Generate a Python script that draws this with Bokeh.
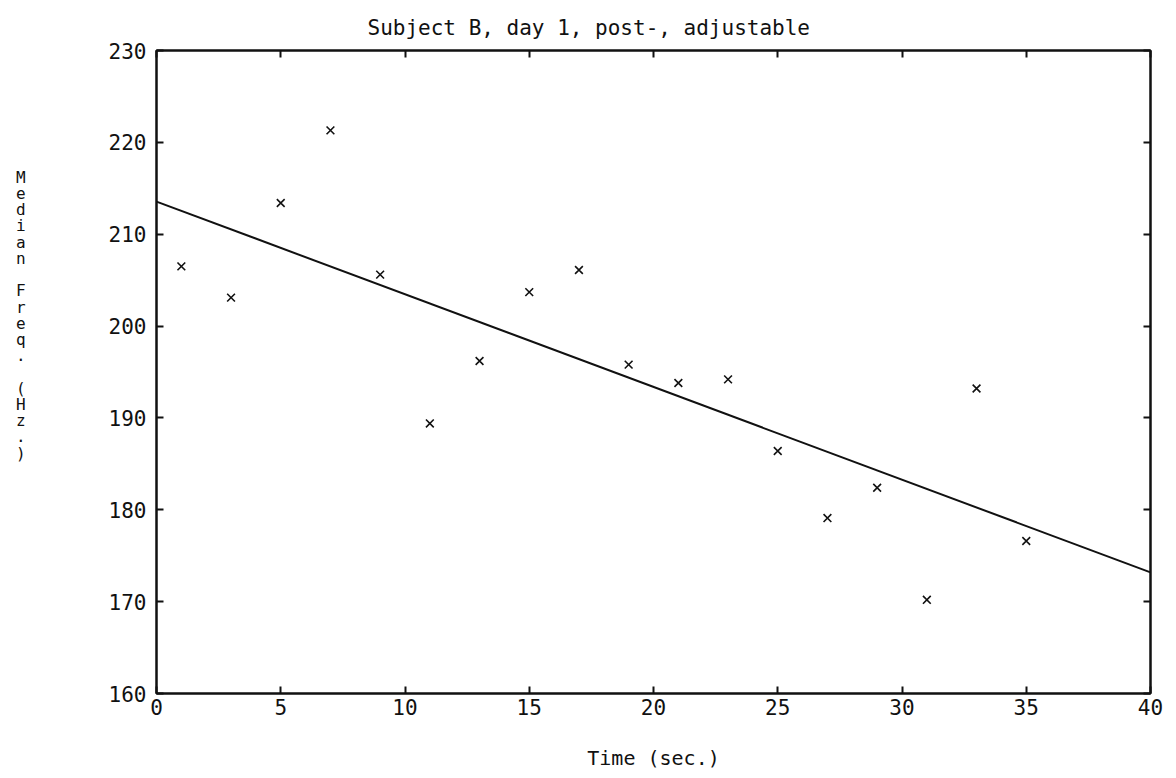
import numpy as np
from bokeh.plotting import figure
from bokeh.models import LinearAxis, Range1d, FixedTicker, CustomJSTickFormatter, Title
from bokeh.embed import file_html
from bokeh.resources import INLINE

# ---- data ----
time_s = [1, 3, 5, 7, 9, 11, 13, 15, 17, 19, 21, 23, 25, 27, 29, 31, 33, 35]
median_freq = [206.5, 203.1, 213.4, 221.3, 205.6, 189.4, 196.2, 203.7, 206.1,
               195.8, 193.8, 194.2, 186.4, 179.1, 182.4, 170.2, 193.2, 176.6]
x_ticks = [0, 5, 10, 15, 20, 25, 30, 35, 40]
y_ticks = [160, 170, 180, 190, 200, 210, 220, 230]
title_text = "Subject B, day 1, post-, adjustable"
y_label = "Median Freq. (Hz.)"
x_label = "Time (sec.)"

FONT = "DejaVu Sans Mono"
INK = "#111111"

x_start, x_end = x_ticks[0], x_ticks[-1]
y_start, y_end = y_ticks[0], y_ticks[-1]

# least-squares fit line (as drawn in the reference)
slope, intercept = np.polyfit(time_s, median_freq, 1)
fit_x = [x_start, x_end]
fit_y = [intercept + slope * v for v in fit_x]

p = figure(width=1168, height=772,
           x_range=Range1d(x_start, x_end), y_range=Range1d(y_start, y_end),
           output_backend="svg", toolbar_location=None,
           min_border_left=156, min_border_right=18,
           min_border_top=50, min_border_bottom=78,
           x_axis_location=None, y_axis_location=None)
p.background_fill_color = "white"
p.border_fill_color = "white"
p.outline_line_color = INK
p.outline_line_width = 2
p.xgrid.visible = False
p.ygrid.visible = False


def style_axis(ax, ticks, labels=True):
    ax.ticker = FixedTicker(ticks=ticks)
    ax.major_tick_in = 7
    ax.major_tick_out = 0
    ax.major_tick_line_width = 2
    ax.major_tick_line_color = INK
    ax.minor_tick_line_color = None
    ax.axis_line_color = INK
    ax.axis_line_width = 2
    ax.major_label_text_font = FONT
    ax.major_label_text_font_size = "21px"
    ax.major_label_text_color = INK
    if not labels:
        ax.formatter = CustomJSTickFormatter(code="return ''")
        ax.major_label_standoff = 0


xb = LinearAxis(axis_label=x_label)
style_axis(xb, x_ticks)
xb.major_label_standoff = 5
xb.axis_label_text_font = FONT
xb.axis_label_text_font_size = "20px"
xb.axis_label_text_font_style = "normal"
xb.axis_label_text_color = INK
xb.axis_label_standoff = 28
p.add_layout(xb, "below")

# stacked (horizontal, one character per line) y-axis label, padded with
# blank lines at the end so that it sits above the frame's centre as in the reference
stacked = "\n".join(ch if ch.strip() else " " for ch in y_label) + "\n \n \n \n \n \n \n"
yl = LinearAxis(axis_label=stacked)
style_axis(yl, y_ticks)
yl.major_label_standoff = 10
yl.axis_label_orientation = "horizontal"
yl.axis_label_text_font = FONT
yl.axis_label_text_font_size = "16px"
yl.axis_label_text_line_height = 0.855
yl.axis_label_text_font_style = "normal"
yl.axis_label_text_color = INK
yl.axis_label_standoff = 80
p.add_layout(yl, "left")

xa = LinearAxis()
style_axis(xa, x_ticks, labels=False)
p.add_layout(xa, "above")

yr = LinearAxis()
style_axis(yr, y_ticks, labels=False)
p.add_layout(yr, "right")

# title, placed left of the frame centre like the reference
p.add_layout(Title(text=title_text, align="left", offset=211,
                   text_font=FONT, text_font_size="21px", text_font_style="normal",
                   text_color=INK, standoff=22), "above")

# scatter points and regression line
p.scatter(time_s, median_freq, marker="x", size=11, line_color=INK, line_width=1.6)
p.line(fit_x, fit_y, line_color=INK, line_width=2)

open("out.html", "w").write(file_html(p, INLINE))
